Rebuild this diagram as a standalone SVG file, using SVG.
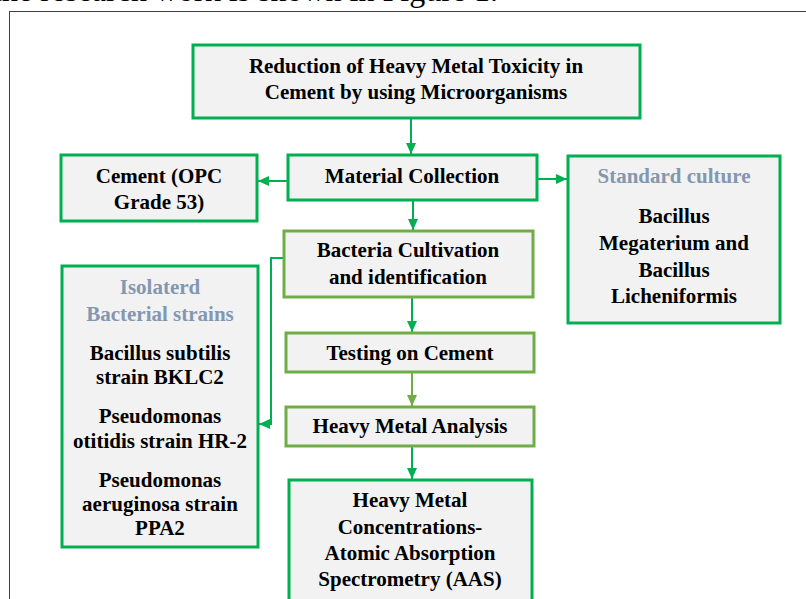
<svg xmlns="http://www.w3.org/2000/svg" width="806" height="599" viewBox="0 0 806 599">
<style>
text{font-family:"Liberation Serif","Times New Roman",serif;font-weight:bold;font-size:21px;text-anchor:middle;fill:#000}
.hd{fill:#8497B0}
.top{font-weight:normal;font-size:32px;text-anchor:end}
.bx{fill:#F2F2F2;stroke:#00B050;stroke-width:3}
.bl{fill:#F2F2F2;stroke:#70AD47;stroke-width:3}
.c{fill:none;stroke:#00B050;stroke-width:2}
.cl{fill:none;stroke:#70AD47;stroke-width:2}
</style>
<defs>
<marker id="ag" markerUnits="userSpaceOnUse" markerWidth="12" markerHeight="12" viewBox="0 0 12 12" refX="11" refY="6" orient="auto"><path d="M0,1 L11,6 L0,11 Z" fill="#00B050"/></marker>
<marker id="al" markerUnits="userSpaceOnUse" markerWidth="12" markerHeight="12" viewBox="0 0 12 12" refX="11" refY="6" orient="auto"><path d="M0,1 L11,6 L0,11 Z" fill="#70AD47"/></marker>
</defs>
<rect width="806" height="599" fill="#fff"/>
<text class="top" x="498" y="1">the research work is shown in Figure 1.</text>
<rect x="9.5" y="11.5" width="900" height="700" fill="none" stroke="#404040" stroke-width="1"/>
<g id="connectors">
<line class="c" x1="411" y1="118" x2="411" y2="154" marker-end="url(#ag)"/>
<line class="c" x1="288" y1="181" x2="258" y2="181" marker-end="url(#ag)"/>
<line class="c" x1="537" y1="179" x2="567" y2="179" marker-end="url(#ag)"/>
<line class="c" x1="413" y1="200" x2="413" y2="230" marker-end="url(#ag)"/>
<polyline class="c" points="284,258 271,258 271,424 259,424" marker-end="url(#ag)"/>
<line class="c" x1="412" y1="297" x2="412" y2="332" marker-end="url(#ag)"/>
<line class="cl" x1="412" y1="372" x2="412" y2="406" marker-end="url(#al)"/>
<line class="c" x1="412" y1="447" x2="412" y2="479" marker-end="url(#ag)"/>
</g>
<g id="n-title">
<rect class="bx" x="193" y="45" width="447" height="73"/>
<text x="416" y="73">Reduction of Heavy Metal Toxicity in</text>
<text x="416" y="99">Cement by using Microorganisms</text>
</g>
<g id="n-material">
<rect class="bx" x="288" y="155" width="249" height="45"/>
<text x="412" y="183">Material Collection</text>
</g>
<g id="n-cement">
<rect class="bx" x="61" y="155" width="196" height="66"/>
<text x="159" y="183">Cement (OPC</text>
<text x="159" y="209">Grade 53)</text>
</g>
<g id="n-standard">
<rect class="bx" x="568" y="156" width="212" height="167"/>
<text class="hd" x="674" y="183">Standard culture</text>
<text x="674" y="223">Bacillus</text>
<text x="674" y="250">Megaterium and</text>
<text x="674" y="277">Bacillus</text>
<text x="674" y="303">Licheniformis</text>
</g>
<g id="n-bacteria">
<rect class="bl" x="284" y="231" width="249" height="66"/>
<text x="408" y="257">Bacteria Cultivation</text>
<text x="408" y="284">and identification</text>
</g>
<g id="n-isolated">
<rect class="bx" x="62" y="266" width="196" height="281"/>
<text class="hd" x="160" y="294">Isolaterd</text>
<text class="hd" x="160" y="321">Bacterial strains</text>
<text x="160" y="360">Bacillus subtilis</text>
<text x="160" y="384">strain BKLC2</text>
<text x="160" y="423">Pseudomonas</text>
<text x="160" y="448">otitidis strain HR-2</text>
<text x="160" y="487">Pseudomonas</text>
<text x="160" y="511">aeruginosa strain</text>
<text x="160" y="535">PPA2</text>
</g>
<g id="n-testing">
<rect class="bl" x="286" y="333" width="248" height="39"/>
<text x="410" y="360">Testing on Cement</text>
</g>
<g id="n-analysis">
<rect class="bl" x="286" y="407" width="248" height="39"/>
<text x="410" y="433">Heavy Metal Analysis</text>
</g>
<g id="n-aas">
<rect class="bx" x="289" y="480" width="243" height="130"/>
<text x="410" y="507">Heavy Metal</text>
<text x="410" y="534">Concentrations-</text>
<text x="410" y="560">Atomic Absorption</text>
<text x="410" y="586">Spectrometry (AAS)</text>
</g>
</svg>
